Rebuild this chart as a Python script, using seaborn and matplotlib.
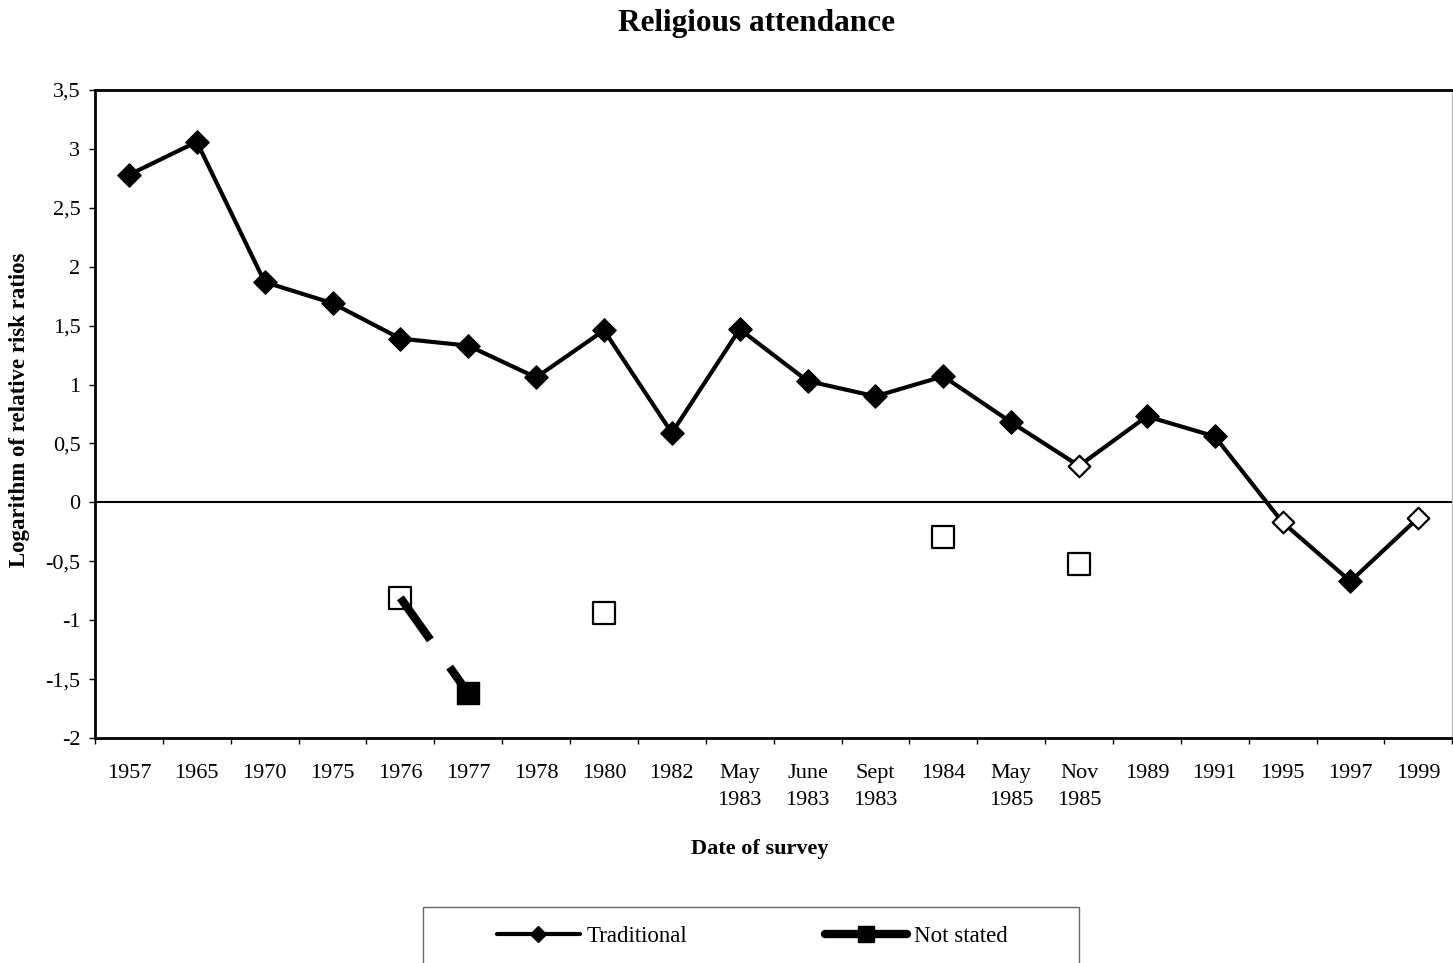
import numpy as np
import pandas as pd
import seaborn as sns
import matplotlib.pyplot as plt
from matplotlib.lines import Line2D
from matplotlib.patches import Rectangle

# data
labels = ["1957", "1965", "1970", "1975", "1976", "1977", "1978", "1980", "1982",
          "May\n1983", "June\n1983", "Sept\n1983", "1984", "May\n1985", "Nov\n1985",
          "1989", "1991", "1995", "1997", "1999"]
traditional = [2.78, 3.06, 1.87, 1.69, 1.39, 1.33, 1.06, 1.46, 0.59, 1.47,
               1.03, 0.90, 1.07, 0.68, 0.31, 0.73, 0.56, -0.17, -0.67, -0.13]
trad_hollow = [False, False, False, False, False, False, False, False, False, False,
               False, False, False, False, True, False, False, True, False, True]
not_stated = [np.nan, np.nan, np.nan, np.nan, -0.81, -1.62, np.nan, -0.94, np.nan, np.nan,
              np.nan, np.nan, -0.29, np.nan, -0.52, np.nan, np.nan, np.nan, np.nan, np.nan]
ns_hollow = [False, False, False, False, True, False, False, True, False, False,
             False, False, True, False, True, False, False, False, False, False]
yticks = [3.5, 3, 2.5, 2, 1.5, 1, 0.5, 0, -0.5, -1, -1.5, -2]

df = pd.DataFrame({"pos": np.arange(len(labels)), "label": labels,
                   "trad": traditional, "trad_hollow": trad_hollow,
                   "ns": not_stated, "ns_hollow": ns_hollow})

sns.set_theme(style="white")
plt.rcParams["font.family"] = ["Liberation Serif", "DejaVu Serif"]
plt.rcParams.update({"text.color": "black", "axes.labelcolor": "black",
                     "xtick.color": "black", "ytick.color": "black"})

W, H = 1453, 963
fig = plt.figure(figsize=(W / 100, H / 100), dpi=100)
ax = fig.add_axes([95 / W, 1 - 738 / H, 1 - 95 / W - 0.0005, (738 - 90) / H])

ax.axhline(0, color="black", lw=1.5, zorder=1)

# Traditional
sns.lineplot(data=df, x="pos", y="trad", color="black", lw=3, ax=ax, zorder=2)
filled = df[~df["trad_hollow"]]
hollow = df[df["trad_hollow"]]
sns.scatterplot(data=filled, x="pos", y="trad", marker="D", s=140, color="black",
                edgecolor="black", linewidth=1, ax=ax, zorder=3)
sns.scatterplot(data=hollow, x="pos", y="trad", marker="D", s=120, color="white",
                edgecolor="black", linewidth=1.6, ax=ax, zorder=3)

# Not stated
ns = df.dropna(subset=["ns"])
sns.scatterplot(data=ns[ns["ns_hollow"]], x="pos", y="ns", marker="s", s=240, color="white",
                edgecolor="black", linewidth=1.6, ax=ax, zorder=3)
sns.scatterplot(data=ns[~ns["ns_hollow"]], x="pos", y="ns", marker="s", s=260, color="black",
                edgecolor="black", linewidth=1, ax=ax, zorder=3)
# line only between consecutive non-missing surveys
valid = df["ns"].notna().to_numpy()
i = 0
while i < len(valid):
    if valid[i]:
        j = i
        while j + 1 < len(valid) and valid[j + 1]:
            j += 1
        if j > i:
            run = df.iloc[i:j + 1]
            sns.lineplot(data=run, x="pos", y="ns", color="black", lw=6, ax=ax, zorder=4,
                         linestyle=(0, (6.2, 4.0)), dash_capstyle="butt")
        i = j + 1
    else:
        i += 1

ax.set_xlim(-0.5, len(labels) - 0.5)
ax.set_ylim(-2, 3.5)
ax.set_yticks(yticks)
ax.set_yticklabels([("%g" % v).replace(".", ",") for v in yticks], fontsize=16)
ax.set_xticks(np.arange(len(labels) + 1) - 0.5)
ax.set_xticklabels([])
ax.set_xticks(np.arange(len(labels)), minor=True)
ax.set_xticklabels(labels, minor=True, fontsize=16, linespacing=1.55, va="top")
ax.tick_params(axis="x", which="major", direction="out", length=4.5, width=1, color="black",
               bottom=True)
ax.tick_params(axis="x", which="minor", length=0, pad=19, bottom=True)
ax.tick_params(axis="y", direction="out", length=4.5, width=1, color="black", pad=6, left=True)

for side in ["left", "bottom", "top"]:
    ax.spines[side].set_color("black")
    ax.spines[side].set_linewidth(2)
ax.spines["right"].set_color("#bbbbbb")
ax.spines["right"].set_linewidth(1)

ax.set_xlabel("")
ax.set_ylabel("")
fig.text(20 / W, 1 - 410 / H, "Logarithm of relative risk ratios", rotation=90,
         ha="center", va="center", fontsize=16.5, fontweight="bold")
fig.text(760 / W, 1 - 849 / H, "Date of survey", ha="center", va="center",
         fontsize=16, fontweight="bold")
fig.text(757 / W, 1 - 23 / H, "Religious attendance", ha="center", va="center",
         fontsize=22.5, fontweight="bold")

# legend box
fig.patches.append(Rectangle((423 / W, -0.01), 656 / W, 0.01 + 1 - 907 / H,
                             transform=fig.transFigure, facecolor="white",
                             edgecolor="#666666", lw=1, zorder=0))
handles = [Line2D([], [], color="black", lw=3, marker="D", markersize=8),
           Line2D([], [], color="black", lw=6, marker="s", markersize=11)]
leg = fig.legend(handles, ["Traditional", "Not stated"], ncol=2, loc="center left",
                 bbox_to_anchor=(497 / W, 1 - 936 / H), frameon=False,
                 fontsize=16.5, handlelength=3.6, handletextpad=0.3,
                 columnspacing=6.0, borderpad=0, borderaxespad=0)

fig.savefig("out.png", dpi=100)
